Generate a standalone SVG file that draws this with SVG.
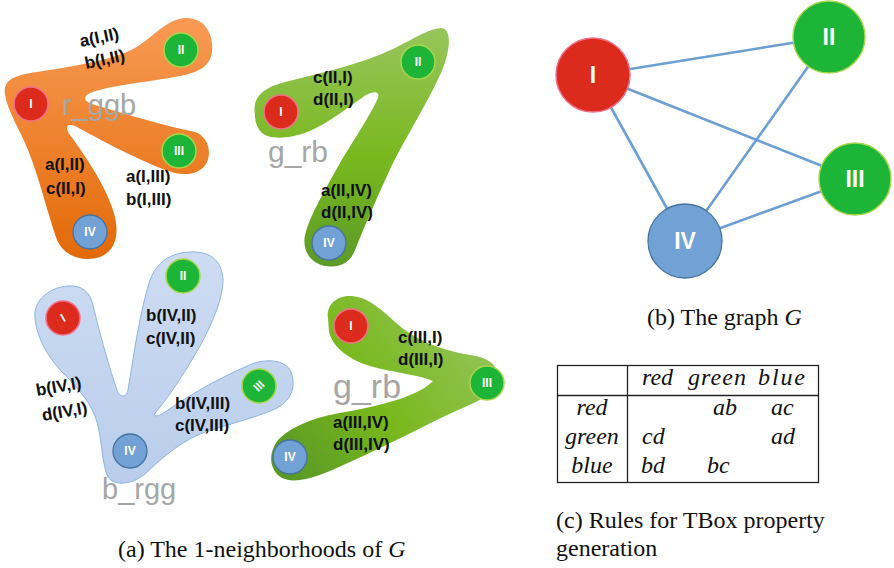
<svg xmlns="http://www.w3.org/2000/svg" width="894" height="568" viewBox="0 0 894 568">
  <defs>
    <linearGradient id="gOrange" gradientUnits="userSpaceOnUse" x1="0" y1="18" x2="0" y2="258">
      <stop offset="0" stop-color="#f89a54"/>
      <stop offset="1" stop-color="#e36a08"/>
    </linearGradient>
    <linearGradient id="gGreenA" gradientUnits="userSpaceOnUse" x1="0" y1="28" x2="0" y2="268">
      <stop offset="0" stop-color="#98c55c"/>
      <stop offset="0.55" stop-color="#78b81e"/>
      <stop offset="1" stop-color="#5b9a28"/>
    </linearGradient>
    <linearGradient id="gGreenB" gradientUnits="userSpaceOnUse" x1="490" y1="330" x2="290" y2="475">
      <stop offset="0" stop-color="#94c55b"/>
      <stop offset="0.55" stop-color="#78b81c"/>
      <stop offset="1" stop-color="#5a9926"/>
    </linearGradient>
    <linearGradient id="gBlue" gradientUnits="userSpaceOnUse" x1="0" y1="252" x2="0" y2="487">
      <stop offset="0" stop-color="#cddcf2"/>
      <stop offset="1" stop-color="#b9cdeb"/>
    </linearGradient>
  </defs>
  <style>
    .red { fill: #dc2b1d; stroke: #f2708c; stroke-width: 1.5; }
    .grn { fill: #1cb537; stroke: #a8d64c; stroke-width: 1.5; }
    .blu { fill: #72a1d5; stroke: #46739f; stroke-width: 1.3; }
    .sm { font-family: "Liberation Sans", Arial, sans-serif; font-weight: bold; font-size: 12px; fill: #ffffff; text-anchor: middle; }
    .big { font-family: "Liberation Sans", Arial, sans-serif; font-weight: bold; font-size: 23px; fill: #ffffff; text-anchor: middle; }
    .lab { font-family: "Liberation Sans", Arial, sans-serif; font-weight: bold; font-size: 17px; fill: #111111; }
    .nm { font-family: "Liberation Sans", Arial, sans-serif; fill: #a6a6a6; }
    .cap { font-family: "Liberation Serif", "Times New Roman", serif; font-size: 24px; fill: #111111; }
    .math { font-family: "Liberation Serif", "Times New Roman", serif; font-style: italic; font-size: 24px; fill: #111111; }
    .edge { stroke: #6c9fd5; stroke-width: 2.6; fill: none; }
    .rule { stroke: #222222; stroke-width: 1.3; fill: none; }
  </style>

  <!-- 1-neighbourhood of node I (r_ggb) -->
  <g id="nbhd-I">
    <path fill="url(#gOrange)" d="M 5,95 C 3,82 10,78 25,74 C 60,68 110,62 135,48 C 155,36 165,20 185,18 C 205,17 214,35 212,52 C 210,66 200,72 180,76 C 150,82 110,85 90,93 C 82,97 84,102 95,105 C 120,112 160,125 195,132 C 207,136 212,150 207,162 C 202,173 188,176 175,173 C 150,166 110,145 75,126 C 66,123 65,128 70,135 C 85,155 105,185 113,210 C 120,232 117,250 100,257 C 85,262 65,258 57,240 C 48,215 40,180 28,150 C 20,130 8,112 5,95 Z"/>
    <circle class="red" cx="31" cy="104" r="17"/><text class="sm" x="31" y="108">I</text>
    <circle class="grn" cx="181" cy="50" r="17"/><text class="sm" x="181" y="54">II</text>
    <circle class="grn" cx="179" cy="151" r="17"/><text class="sm" x="179" y="155">III</text>
    <circle class="blu" cx="90" cy="232" r="17"/><text class="sm" x="90" y="236">IV</text>
    <text class="nm" x="62" y="115" font-size="29">r_ggb</text>
    <text class="lab" transform="translate(81,47) rotate(-12)">a(I,II)</text>
    <text class="lab" transform="translate(86,69) rotate(-12)">b(I,II)</text>
    <text class="lab" x="45" y="170">a(I,II)</text>
    <text class="lab" x="46" y="194">c(II,I)</text>
    <text class="lab" x="126" y="182">a(I,III)</text>
    <text class="lab" x="126" y="205">b(I,III)</text>
  </g>

  <!-- 1-neighbourhood of node II (g_rb) -->
  <g id="nbhd-II">
    <path fill="url(#gGreenA)" d="M 255,115 C 252,98 262,88 285,82 C 320,73 360,65 395,48 C 415,38 430,28 442,28 C 452,30 450,50 443,68 C 432,95 410,130 392,165 C 378,195 365,225 355,250 C 350,263 340,268 325,266 C 310,263 302,250 305,235 C 310,215 325,190 340,163 C 355,138 372,112 378,98 C 380,92 375,90 366,95 C 350,106 330,122 310,131 C 290,139 270,140 262,133 C 257,128 255,122 255,115 Z"/>
    <circle class="red" cx="281" cy="112" r="17"/><text class="sm" x="281" y="116">I</text>
    <circle class="grn" cx="418" cy="62" r="17"/><text class="sm" x="418" y="66">II</text>
    <circle class="blu" cx="329" cy="243" r="17"/><text class="sm" x="329" y="247">IV</text>
    <text class="nm" x="268" y="162" font-size="30">g_rb</text>
    <text class="lab" x="313" y="83">c(II,I)</text>
    <text class="lab" x="313" y="105">d(II,I)</text>
    <text class="lab" x="321" y="196">a(II,IV)</text>
    <text class="lab" x="321" y="218">d(II,IV)</text>
  </g>

  <!-- 1-neighbourhood of node IV (b_rgg) -->
  <g id="nbhd-IV">
    <path fill="url(#gBlue)" stroke="#8fb3e2" stroke-width="1" d="M 35,318 C 33,300 50,287 68,286 C 82,285 90,292 93,305 C 100,335 110,370 117,390 C 120,398 126,398 128,390 C 133,360 140,310 150,280 C 157,262 170,253 190,252 C 210,251 222,260 223,280 C 223,300 210,330 193,358 C 180,380 165,402 155,413 C 153,417 158,417 165,412 C 185,398 215,380 245,367 C 262,358 285,358 291,372 C 297,388 290,402 275,409 C 255,418 225,425 200,434 C 175,445 158,462 145,474 C 133,484 115,487 108,477 C 102,465 102,440 97,422 C 92,405 80,390 65,375 C 50,360 37,340 35,318 Z"/>
    <circle class="red" cx="63" cy="318" r="17"/><text class="sm" transform="translate(63,318) rotate(-30)" x="0" y="4">I</text>
    <circle class="grn" cx="183" cy="276" r="17"/><text class="sm" x="183" y="280">II</text>
    <circle class="grn" cx="259" cy="386" r="17"/><text class="sm" transform="translate(259,386) rotate(-45)" x="0" y="4">III</text>
    <circle class="blu" cx="130" cy="451" r="17"/><text class="sm" x="130" y="455">IV</text>
    <text class="nm" x="102" y="499" font-size="29">b_rgg</text>
    <text class="lab" x="146" y="321">b(IV,II)</text>
    <text class="lab" x="146" y="344">c(IV,II)</text>
    <text class="lab" x="175" y="409">b(IV,III)</text>
    <text class="lab" x="175" y="431">c(IV,III)</text>
    <text class="lab" transform="translate(37,396) rotate(-10)">b(IV,I)</text>
    <text class="lab" transform="translate(43,421) rotate(-10)">d(IV,I)</text>
  </g>

  <!-- 1-neighbourhood of node III (g_rb) -->
  <g id="nbhd-III">
    <path fill="url(#gGreenB)" d="M 328,318 C 326,302 340,295 352,296 C 368,297 382,310 395,322 C 415,340 440,350 470,355 C 490,358 498,365 497,378 C 496,392 485,398 465,407 C 430,422 395,442 350,462 C 320,476 297,485 282,478 C 268,470 268,450 280,438 C 295,424 320,416 345,412 C 385,405 420,395 433,381 C 420,375 395,373 370,366 C 350,360 333,348 329,332 Z"/>
    <circle class="red" cx="351" cy="326" r="17"/><text class="sm" x="351" y="330">I</text>
    <circle class="grn" cx="487" cy="383" r="17"/><text class="sm" x="487" y="387">III</text>
    <circle class="blu" cx="290" cy="457" r="17"/><text class="sm" x="290" y="461">IV</text>
    <text class="nm" x="333" y="398" font-size="34">g_rb</text>
    <text class="lab" x="398" y="343">c(III,I)</text>
    <text class="lab" x="398" y="365">d(III,I)</text>
    <text class="lab" x="333" y="428">a(III,IV)</text>
    <text class="lab" x="333" y="450">d(III,IV)</text>
  </g>

  <text class="cap" x="118" y="557">(a) The 1-neighborhoods of <tspan font-style="italic">G</tspan></text>

  <!-- the graph G -->
  <g id="edges">
    <line class="edge" x1="593" y1="75" x2="829" y2="37"/>
    <line class="edge" x1="593" y1="75" x2="855" y2="179"/>
    <line class="edge" x1="593" y1="75" x2="685" y2="241"/>
    <line class="edge" x1="829" y1="37" x2="685" y2="241"/>
    <line class="edge" x1="855" y1="179" x2="685" y2="241"/>
  </g>
  <g id="node-I"><circle class="red" cx="593" cy="75" r="37"/><text class="big" x="593" y="83">I</text></g>
  <g id="node-II"><circle class="grn" cx="829" cy="37" r="36"/><text class="big" x="829" y="45">II</text></g>
  <g id="node-III"><circle class="grn" cx="855" cy="179" r="36"/><text class="big" x="855" y="187">III</text></g>
  <g id="node-IV"><circle class="blu" cx="685" cy="241" r="37"/><text class="big" x="685" y="249">IV</text></g>

  <text class="cap" x="647" y="325">(b) The graph <tspan font-style="italic">G</tspan></text>

  <!-- rule table -->
  <g id="rules">
    <rect class="rule" x="557.5" y="365.5" width="261" height="117"/>
    <line class="rule" x1="557.5" y1="395.5" x2="818.5" y2="395.5"/>
    <line class="rule" x1="627.5" y1="365.5" x2="627.5" y2="482.5"/>
    <text class="math" x="642" y="385">red</text>
    <text class="math" x="688" y="385" textLength="58">green</text>
    <text class="math" x="758" y="385" textLength="47">blue</text>
    <text class="math" x="592" y="415" text-anchor="middle">red</text>
    <text class="math" x="592" y="444" text-anchor="middle">green</text>
    <text class="math" x="592" y="473" text-anchor="middle">blue</text>
    <text class="math" x="713" y="415">ab</text>
    <text class="math" x="771" y="415">ac</text>
    <text class="math" x="642" y="444">cd</text>
    <text class="math" x="771" y="444">ad</text>
    <text class="math" x="641" y="473">bd</text>
    <text class="math" x="707" y="473">bc</text>
  </g>

  <text class="cap" x="556" y="528" font-size="23.5">(c) Rules for TBox property</text>
  <text class="cap" x="556" y="556" font-size="23.5">generation</text>
</svg>
